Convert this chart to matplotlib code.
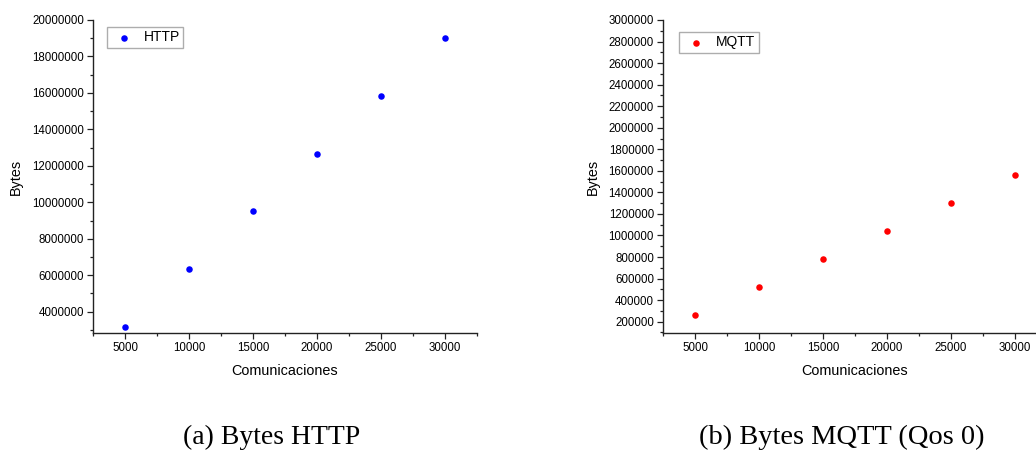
import matplotlib
matplotlib.use("Agg")
import matplotlib.pyplot as plt
from matplotlib.ticker import MultipleLocator

plt.rcParams['font.family'] = ['Liberation Sans', 'DejaVu Sans']

comunicaciones = [5000, 10000, 15000, 20000, 25000, 30000]
http_bytes = [3160000, 6330000, 9510000, 12670000, 15830000, 19010000]
mqtt_bytes = [259000, 522000, 782000, 1045000, 1304000, 1564000]
x_ticks = [5000, 10000, 15000, 20000, 25000, 30000]
http_yticks = [4000000, 6000000, 8000000, 10000000, 12000000, 14000000,
               16000000, 18000000, 20000000]
mqtt_yticks = list(range(200000, 3000001, 200000))

fig = plt.figure(figsize=(10.36, 4.53), dpi=100)

def style(ax, yticks, ylim, yminor, label, color, data, legend_anchor):
    ax.scatter(comunicaciones, data, s=22, color=color, label=label,
               zorder=3, linewidths=0)
    ax.set_xlim(2500, 32500)
    ax.set_ylim(*ylim)
    ax.set_xticks(x_ticks)
    ax.set_yticks(yticks)
    ax.xaxis.set_minor_locator(MultipleLocator(2500))
    ax.yaxis.set_minor_locator(MultipleLocator(yminor))
    ax.set_xticklabels([str(v) for v in x_ticks])
    ax.set_yticklabels([str(v) for v in yticks])
    for s in ['top', 'right']:
        ax.spines[s].set_visible(False)
    for s in ['left', 'bottom']:
        ax.spines[s].set_color('#222222')
        ax.spines[s].set_linewidth(1.0)
    ax.tick_params(which='major', direction='out', length=4, width=0.9,
                   labelsize=8.3, colors='#222222', pad=2.5)
    ax.tick_params(which='minor', direction='out', length=2.5, width=0.9,
                   colors='#222222')
    ax.tick_params(labelcolor='black')
    ax.set_xlabel('Comunicaciones', fontsize=10.4, labelpad=7)
    ax.set_ylabel('Bytes', fontsize=10.4, labelpad=6.5)
    leg = ax.legend(loc='upper left', bbox_to_anchor=legend_anchor,
                    borderaxespad=0, fontsize=10, frameon=True,
                    fancybox=False, handletextpad=0.4, borderpad=0.25,
                    handlelength=2.0, markerscale=1.0)
    leg.get_frame().set_edgecolor('#999999')
    leg.get_frame().set_linewidth(1.0)

ax1 = fig.add_axes([93/1036, 1-333/453, 384/1036, 313/453])
style(ax1, http_yticks, (2830000, 20000000), 1000000, 'HTTP', '#0000ff',
      http_bytes, (0.036, 0.978))

ax2 = fig.add_axes([663/1036, 1-333/453, 384/1036, 313/453])
style(ax2, mqtt_yticks, (95000, 3000000), 100000, 'MQTT', '#ff0000',
      mqtt_bytes, (0.042, 0.962))

fig.text(272/1036, 1-437/453, '(a) Bytes HTTP', ha='center', va='center',
         fontsize=20, family=['Liberation Serif', 'DejaVu Serif'])
fig.text(842/1036, 1-437/453, '(b) Bytes MQTT (Qos 0)', ha='center',
         va='center', fontsize=20.5, family=['Liberation Serif', 'DejaVu Serif'])

fig.savefig('out.png', dpi=100)
